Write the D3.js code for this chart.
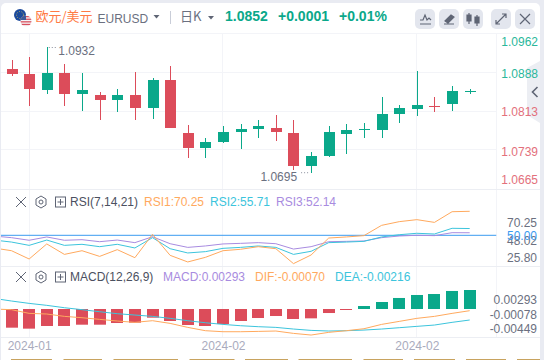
<!DOCTYPE html>
<html>
<head>
<meta charset="utf-8">
<script src="https://cdn.jsdelivr.net/npm/d3@7"></script>
<style>
	html, body { margin: 0; padding: 0; background: #fff; overflow: hidden; }
	text { font-family: "Liberation Sans", Arial, "Noto Sans CJK SC", sans-serif; }
</style>
</head>
<body>
<div id="chart"></div>
<script>
// candles, oldest first
const opens = [1.08945,1.08849,1.08540,1.08868,1.08463,1.08444,1.08347,1.08444,1.08193,1.08733,1.07711,1.07421,1.07537,1.07730,1.07788,1.07807,1.07711,1.07074,1.07267,1.07691,1.07780,1.07769,1.08077,1.08173,1.08231,1.08270,1.08521];
const highs = [1.09119,1.09176,1.09369,1.09041,1.08868,1.08501,1.08559,1.08887,1.08771,1.09003,1.07865,1.07614,1.07846,1.07884,1.07961,1.08058,1.07961,1.07344,1.07846,1.07884,1.07904,1.08405,1.08251,1.08906,1.08405,1.08617,1.08559];
const lows = [1.08810,1.08231,1.08463,1.08231,1.08135,1.07961,1.08116,1.07961,1.07980,1.07999,1.07229,1.07229,1.07518,1.07402,1.07614,1.07556,1.06997,1.06945,1.07248,1.07306,1.07614,1.07614,1.07904,1.08039,1.08116,1.08135,1.08463];
const closes = [1.08849,1.08559,1.08868,1.08463,1.08540,1.08347,1.08444,1.08193,1.08733,1.07807,1.07421,1.07537,1.07730,1.07788,1.07846,1.07730,1.07074,1.07267,1.07730,1.07769,1.07790,1.08077,1.08193,1.08251,1.08220,1.08521,1.08530];

// indicators carry one extra leading point, the bar just left of the visible window
const rsi1 = [39.3,37.0,30.0,42.7,33.9,37.0,32.2,37.9,31.1,50.8,33.1,27.5,31.4,37.0,38.2,40.4,38.7,26.1,33.4,47.7,48.6,49.7,58.4,61.5,63.2,60.9,69.9,70.25];
const rsi2 = [46.0,44.3,41.5,46.0,41.5,42.4,40.4,42.4,39.3,48.0,38.7,35.1,36.2,39.0,39.8,41.0,39.8,33.9,36.5,43.8,44.3,44.9,48.6,50.5,51.7,51.1,55.9,55.71];
const rsi3 = [49.4,48.0,45.8,48.6,45.8,46.3,44.6,46.0,43.8,48.8,42.9,39.8,41.0,42.7,43.2,43.8,42.9,38.4,40.4,44.6,44.9,45.2,48.0,49.4,50.0,49.7,52.2,52.14];
const dif = [-0.00044,-0.00054,-0.00112,-0.00122,-0.00159,-0.00180,-0.00206,-0.00232,-0.00253,-0.00227,-0.00269,-0.00332,-0.00384,-0.00400,-0.00400,-0.00395,-0.00389,-0.00426,-0.00452,-0.00410,-0.00384,-0.00353,-0.00285,-0.00238,-0.00190,-0.00159,-0.00112,-0.00070];
const dea = [0.00123,0.00082,0.00045,0.00014,-0.00023,-0.00054,-0.00086,-0.00117,-0.00138,-0.00159,-0.00190,-0.00227,-0.00259,-0.00285,-0.00306,-0.00321,-0.00332,-0.00358,-0.00379,-0.00389,-0.00384,-0.00374,-0.00358,-0.00337,-0.00316,-0.00295,-0.00253,-0.00216];
const macd = [-0.00288,-0.00303,-0.00262,-0.00262,-0.00242,-0.00242,-0.00216,-0.00211,-0.00134,-0.00185,-0.00247,-0.00262,-0.00231,-0.00185,-0.00139,-0.00108,-0.00154,-0.00144,-0.00062,-0.00015,0.00046,0.00108,0.00170,0.00216,0.00231,0.00278,0.00293];

const priceTicks = [1.0962,1.0888,1.0813,1.0739,1.0665];
const rsiTicks = ['70.25','48.02','25.80'];
const macdTicks = ['0.00293','-0.00078','-0.00449'];
const dateTicks = ['2024-01','2024-02','2024-02'];
const dateTickBars = [2,13,24];

const upColor = '#0aa88a',
	downColor = '#dc4c5a',
	gridColor = '#f3f4f8',
	orange = '#ffa95e',
	cyan = '#3cc4dc',
	purple = '#a88be0',
	iconColor = '#5f6575',
	grayText = '#6b7080';

const width = 544, height = 360, plotRight = 496.5;

const svg = d3.select('#chart').append('svg')
	.attr('width', width)
	.attr('height', height)
	.style('display', 'block');

// page frame around the white card
svg.append('rect').attr('width', width).attr('height', height).attr('fill', '#e9ebf2');
svg.append('rect')
	.attr('x', 1).attr('y', 3).attr('width', 539).attr('height', 362).attr('rx', 5)
	.attr('fill', '#fff');

svg.append('clipPath').attr('id', 'plot-clip').append('rect')
	.attr('x', 1).attr('y', 33).attr('width', plotRight - 1).attr('height', 304);

const x = d3.scaleLinear().domain([0, 27]).range([-6.1, 469.7]);
const yPrice = d3.scaleLinear().domain([1.0665, 1.0962]).range([188, 34]);
const yRsi = d3.scaleLinear().domain([50, 70.25]).range([235.3, 211.3]);
const yBar = d3.scaleLinear().domain([0, 0.00293]).range([309, 290]);
const yMacdLine = d3.scaleLinear().domain([-0.00216, -0.00070]).range([320, 310.7]);

// grid
const grid = svg.append('g').attr('stroke', gridColor).attr('stroke-width', 1).attr('shape-rendering', 'crispEdges');
dateTickBars.forEach(i => {
	grid.append('line').attr('x1', x(i)).attr('x2', x(i)).attr('y1', 33).attr('y2', 337);
});
priceTicks.slice(1, 4).forEach(t => {
	grid.append('line').attr('x1', 1).attr('x2', plotRight).attr('y1', yPrice(t)).attr('y2', yPrice(t));
});
grid.append('line').attr('x1', 1).attr('x2', 540).attr('y1', 33).attr('y2', 33);
grid.append('line').attr('x1', plotRight).attr('x2', plotRight).attr('y1', 33).attr('y2', 337);
[189, 266, 337].forEach(py => {
	grid.append('line').attr('x1', 1).attr('x2', 540).attr('y1', py).attr('y2', py).attr('stroke', '#eceef3');
});

// candles
const candles = svg.append('g').attr('clip-path', 'url(#plot-clip)').attr('shape-rendering', 'crispEdges');
opens.forEach((open, i) => {
	const close = closes[i],
		cx = Math.round(x(i + 1)),
		color = close >= open ? upColor : downColor,
		top = yPrice(Math.max(open, close)),
		bottom = yPrice(Math.min(open, close));
	candles.append('rect')
		.attr('x', cx - 0.5).attr('width', 1.2)
		.attr('y', yPrice(highs[i])).attr('height', yPrice(lows[i]) - yPrice(highs[i]))
		.attr('fill', color);
	candles.append('rect')
		.attr('x', cx - 5.5).attr('width', 11)
		.attr('y', top).attr('height', Math.max(bottom - top, 1))
		.attr('fill', color);
});

// high / low markers
const annot = svg.append('g').attr('font-size', 12).attr('fill', grayText);
const highIndex = d3.maxIndex(highs), lowIndex = d3.minIndex(lows);
annot.append('line')
	.attr('x1', x(highIndex + 1) + 2).attr('x2', x(highIndex + 1) + 10)
	.attr('y1', yPrice(highs[highIndex]) + 0.5).attr('y2', yPrice(highs[highIndex]) + 0.5)
	.attr('stroke', '#8a8f9c').attr('stroke-dasharray', '1,2');
annot.append('text').attr('x', x(highIndex + 1) + 11.5).attr('y', yPrice(highs[highIndex]) + 8).text('1.0932');
annot.append('line')
	.attr('x1', x(lowIndex + 1) - 10).attr('x2', x(lowIndex + 1) - 1)
	.attr('y1', yPrice(lows[lowIndex])).attr('y2', yPrice(lows[lowIndex]))
	.attr('stroke', '#8a8f9c').attr('stroke-dasharray', '1,2');
annot.append('text').attr('x', x(lowIndex + 1) - 14).attr('y', yPrice(lows[lowIndex]) + 8).attr('text-anchor', 'end').text('1.0695');

// right side tab
svg.append('polygon').attr('points', '527,68 540,61 540,123 527,115').attr('fill', '#eceef3');
svg.append('path').attr('d', 'M537.5,87 L532.5,92 L537.5,97').attr('fill', 'none').attr('stroke', iconColor).attr('stroke-width', 1.6);

// price labels get pushed inward at both ends of the pane
const priceNudge = [7.5, 1, 0.5, 2, -8];
const priceLabels = svg.append('g').attr('font-size', 12).attr('text-anchor', 'end');
priceTicks.forEach((t, i) => {
	priceLabels.append('text')
		.attr('x', 538)
		.attr('y', yPrice(t) + priceNudge[i] + 4.2)
		.attr('fill', i < 2 ? '#2ab79b' : '#e3707c')
		.text(t.toFixed(4));
});

// RSI pane
const lineRsi = d3.line().x((d, i) => x(i)).y(d => yRsi(d));
const rsiPane = svg.append('g').attr('clip-path', 'url(#plot-clip)').attr('fill', 'none').attr('stroke-width', 1);
rsiPane.append('line').attr('x1', 1).attr('x2', plotRight).attr('y1', yRsi(50)).attr('y2', yRsi(50)).attr('stroke', '#3b9bf0');
[[rsi3, purple], [rsi2, cyan], [rsi1, orange]].forEach(([values, color]) => {
	rsiPane.append('path').attr('d', lineRsi(values)).attr('stroke', color);
});

const rsiLabelY = [223, 241, 257.7];
const rsiLabels = svg.append('g').attr('font-size', 12).attr('text-anchor', 'end').attr('fill', grayText);
rsiTicks.forEach((t, i) => {
	rsiLabels.append('text').attr('x', 537).attr('y', rsiLabelY[i] + 4.2).text(t);
});
rsiLabels.append('text').attr('x', 537).attr('y', yRsi(50) + 4.6).attr('fill', '#3b9bf0').text('50.00');

// MACD pane
const macdPane = svg.append('g').attr('clip-path', 'url(#plot-clip)');
macd.forEach((v, i) => {
	macdPane.append('rect')
		.attr('x', Math.round(x(i + 1)) - 6).attr('width', 12)
		.attr('y', Math.min(yBar(v), yBar(0)))
		.attr('height', Math.max(Math.abs(yBar(v) - yBar(0)), 1))
		.attr('fill', v >= 0 ? upColor : downColor);
});
const lineMacd = d3.line().x((d, i) => x(i)).y(d => yMacdLine(d));
[[dea, cyan], [dif, orange]].forEach(([values, color]) => {
	macdPane.append('path').attr('d', lineMacd(values)).attr('fill', 'none').attr('stroke', color).attr('stroke-width', 1);
});

const macdLabelY = [299.3, 314.7, 328.3];
const macdLabels = svg.append('g').attr('font-size', 12).attr('text-anchor', 'end').attr('fill', grayText);
macdTicks.forEach((t, i) => {
	macdLabels.append('text').attr('x', 537).attr('y', macdLabelY[i] + 4.2).text(t);
});

// date axis
const dateAxis = d3.axisBottom(x)
	.tickValues(dateTickBars)
	.tickSize(0)
	.tickPadding(0)
	.tickFormat((d, i) => dateTicks[i]);
const axisG = svg.append('g').attr('transform', 'translate(0,341.5)').call(dateAxis);
axisG.select('.domain').remove();
axisG.selectAll('text').attr('font-size', 12).attr('fill', '#a9abbd')
	.style('font-family', '"Liberation Sans", Arial, sans-serif');

// pane title rows
function paneIcons(cy){
	const g = svg.append('g').attr('fill', 'none').attr('stroke', iconColor).attr('stroke-width', 1);
	g.append('path').attr('d', `M16,${cy - 5} L26,${cy + 5} M26,${cy - 5} L16,${cy + 5}`);
	g.append('path').attr('d', `M41,${cy - 6} L46,${cy - 3} L46,${cy + 3} L41,${cy + 6} L36,${cy + 3} L36,${cy - 3} Z`);
	g.append('circle').attr('cx', 41).attr('cy', cy).attr('r', 2);
	g.append('rect').attr('x', 55.5).attr('y', cy - 5).attr('width', 10).attr('height', 10);
	g.append('path').attr('d', `M57.5,${cy} L63.5,${cy} M60.5,${cy - 3} L60.5,${cy + 3}`);
}
function paneText(cy, items){
	const g = svg.append('g').attr('font-size', 12);
	items.forEach(([px, label, color]) => {
		g.append('text').attr('x', px).attr('y', cy + 4.2).attr('fill', color).text(label);
	});
}
paneIcons(202);
paneText(202, [[70, 'RSI(7,14,21)', '#4b5060'], [144, 'RSI1:70.25', orange], [210, 'RSI2:55.71', cyan], [276, 'RSI3:52.14', purple]]);
paneIcons(277);
paneText(277, [[70, 'MACD(12,26,9)', '#4b5060'], [163, 'MACD:0.00293', purple], [255, 'DIF:-0.00070', orange], [335, 'DEA:-0.00216', cyan]]);

// header: flags
svg.append('clipPath').attr('id', 'us-clip').append('circle').attr('cx', 26).attr('cy', 21).attr('r', 5.5);
svg.append('circle').attr('cx', 20).attr('cy', 15).attr('r', 6).attr('fill', '#1c4a9c');
svg.append('circle').attr('cx', 20).attr('cy', 15).attr('r', 3.5).attr('fill', 'none').attr('stroke', '#d8c24a').attr('stroke-width', 0.8).attr('stroke-dasharray', '1,1.5');
const us = svg.append('g').attr('clip-path', 'url(#us-clip)');
us.append('rect').attr('x', 20).attr('y', 15).attr('width', 12).attr('height', 12).attr('fill', '#f4f4f6');
d3.range(4).forEach(i => {
	us.append('rect').attr('x', 20).attr('y', 16 + i * 2.6).attr('width', 12).attr('height', 1.3).attr('fill', '#d9505e');
});
us.append('rect').attr('x', 20).attr('y', 15).attr('width', 6).attr('height', 5).attr('fill', '#3d5a98');

// header: text
const header = svg.append('g');
header.append('text').attr('x', 35.5).attr('y', 21).attr('font-size', 13).attr('fill', '#ff7a45')
	.style('font-family', '"Noto Sans CJK SC", sans-serif').text('欧元/美元');
header.append('text').attr('x', 97.5).attr('y', 22.5).attr('font-size', 12).attr('fill', grayText).text('EURUSD');
header.append('path').attr('d', 'M153.5,15 L159.5,15 L156.5,18.5 Z').attr('fill', iconColor);
header.append('line').attr('x1', 170.5).attr('x2', 170.5).attr('y1', 11).attr('y2', 24).attr('stroke', '#c9cdd8');
header.append('text').attr('x', 180).attr('y', 21).attr('font-size', 13).attr('fill', grayText)
	.style('font-family', '"Noto Sans CJK SC", sans-serif').text('日K');
header.append('path').attr('d', 'M208,16 L214,16 L211,19.5 Z').attr('fill', iconColor);
header.append('text').attr('x', 225).attr('y', 21).attr('font-size', 14).attr('font-weight', 'bold').attr('fill', upColor).text('1.0852');
header.append('text').attr('x', 278).attr('y', 21).attr('font-size', 14).attr('font-weight', 'bold').attr('fill', upColor).text('+0.0001');
header.append('text').attr('x', 339).attr('y', 21).attr('font-size', 14).attr('font-weight', 'bold').attr('fill', upColor).text('+0.01%');

// header: buttons
const buttonIcons = [
	'M420,20 L423,20 L425,15 L427,20 L429,18 L431,20 M420,24 L431,24',
	'M444,24 L454,24 M445,21 L451,15 L454,17 L448,23 Z',
	'M469,13 L469,24 M477,15 L477,26 M467,15 h4 v6 h-4 Z M475,17 h4 v6 h-4 Z',
	'M496,24 L506,14 M502,14 h4 v4 M496,20 v4 h4',
	'M520,14 L530,24 M530,14 L520,24'
];
[415, 439, 463, 491, 515].forEach((bx, i) => {
	header.append('rect').attr('x', bx).attr('y', 9).attr('width', 20).attr('height', 20).attr('rx', 5).attr('fill', '#e3e6ee');
	header.append('path').attr('d', buttonIcons[i]).attr('fill', i == 1 || i == 2 ? iconColor : 'none').attr('stroke', iconColor).attr('stroke-width', 1.2);
});

// cut-off tabs at the very bottom of the page
const tabStarts = [11,63.5,113.5,189.5,245,298.5,363.5,414,466,517];
const tabEnds = [52,102,178,234.5,288,352,403,455,506,540];
tabStarts.forEach((s, i) => {
	svg.append('rect').attr('x', s).attr('y', 359).attr('width', tabEnds[i] - s).attr('height', 1).attr('fill', '#c8a35f');
});
</script>
</body>
</html>
